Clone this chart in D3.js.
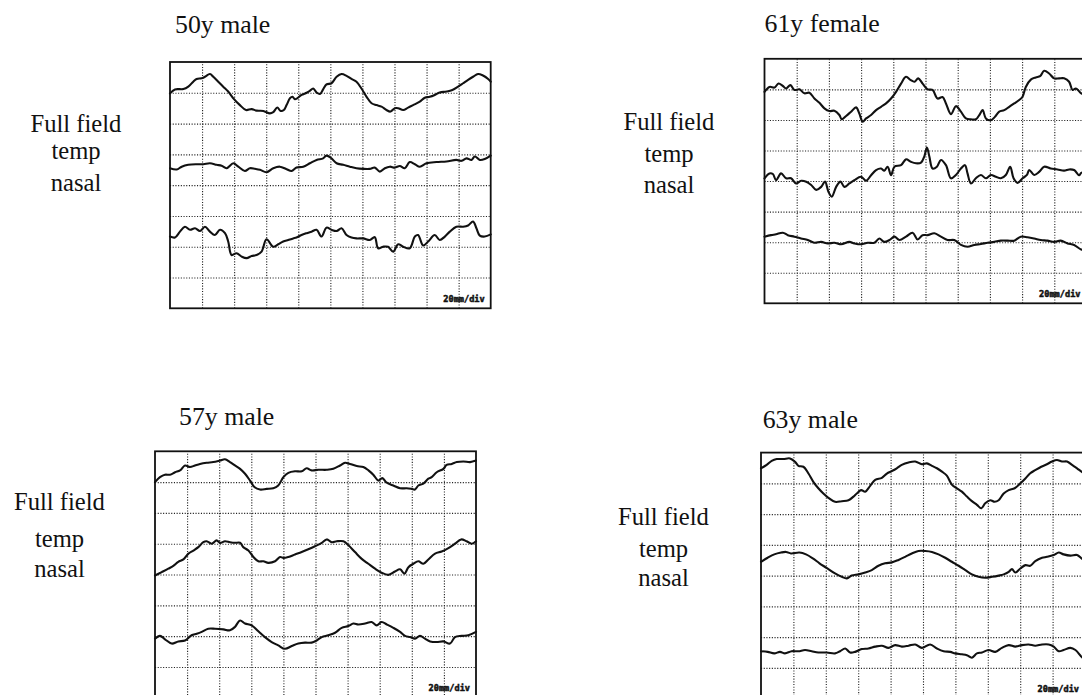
<!DOCTYPE html>
<html><head><meta charset="utf-8">
<script src="https://cdn.jsdelivr.net/npm/d3@7"></script>
<style>html,body{margin:0;padding:0;background:#fff;overflow:hidden}</style>
</head><body>
<svg id="c" width="1082" height="695"></svg>
<script>
// ---------- data (time in ms, 20 ms/div; amplitude in divisions from bottom of grid) ----------
const titles = ["50y male", "61y female", "57y male", "63y male"];
const rowLabels = ["Full field", "temp", "nasal"];
const scaleLabel = "20mm/div";
const xTicks = [20, 40, 60, 80, 100, 120, 140, 160, 180];
const yTicks = [1, 2, 3, 4, 5, 6, 7];

const p1Full = [[0,6.98],[3.1,7.11],[8.3,7.12],[11.4,7.20],[14.5,7.36],[16.6,7.45],[19.7,7.47],[21.8,7.52],[24.9,7.61],[27.0,7.52],[30.1,7.36],[33.2,7.20],[36.3,7.04],[39.5,6.82],[43.6,6.60],[47.4,6.44],[50.9,6.47],[54.0,6.42],[58.2,6.41],[62.3,6.33],[64.4,6.37],[66.9,6.52],[69.0,6.41],[71.0,6.44],[72.7,6.60],[74.8,6.82],[76.4,6.87],[77.9,6.79],[79.3,6.82],[82.0,6.93],[85.2,7.00],[87.2,7.06],[89.3,7.14],[91.4,7.01],[93.5,6.96],[95.5,7.11],[97.6,7.27],[100.7,7.31],[103.9,7.52],[107.0,7.61],[110.1,7.55],[113.2,7.45],[116.3,7.36],[119.4,7.14],[122.6,6.87],[125.7,6.66],[128.8,6.60],[131.9,6.55],[135.0,6.44],[137.5,6.39],[140.2,6.50],[142.3,6.50],[145.4,6.44],[148.5,6.52],[151.6,6.60],[155.8,6.71],[158.9,6.84],[162.0,6.87],[165.1,6.93],[168.2,7.01],[172.4,7.04],[176.1,7.09],[179.7,7.20],[182.8,7.31],[185.9,7.42],[189.0,7.52],[192.1,7.61],[195.2,7.56],[198.4,7.45],[200,7.36]];
const p1Temp = [[0,4.55],[4.2,4.51],[7.3,4.60],[11.4,4.66],[16.6,4.68],[20.8,4.68],[24.9,4.71],[29.1,4.66],[32.2,4.63],[35.3,4.55],[39.5,4.71],[42.6,4.60],[46.7,4.46],[49.8,4.55],[53.0,4.53],[56.1,4.50],[60.2,4.42],[64.4,4.55],[68.5,4.60],[72.7,4.52],[75.8,4.46],[78.9,4.57],[83.1,4.60],[87.2,4.71],[91.4,4.82],[95.5,4.87],[97.6,4.96],[100.7,4.87],[103.9,4.71],[108.0,4.66],[112.2,4.60],[116.3,4.55],[120.5,4.53],[124.6,4.53],[127.7,4.57],[130.9,4.44],[134.0,4.55],[137.1,4.60],[140.2,4.57],[143.3,4.62],[146.4,4.55],[149.5,4.75],[152.7,4.68],[155.8,4.60],[159.9,4.71],[166.2,4.75],[172.4,4.77],[178.6,4.82],[181.8,4.79],[184.9,4.87],[188.0,4.82],[190.1,4.93],[193.2,4.82],[196.3,4.85],[200,4.96]];
const p1Nasal = [[0,2.33],[3.1,2.30],[6.2,2.49],[9.3,2.65],[12.5,2.55],[15.6,2.60],[18.7,2.51],[21.8,2.65],[24.9,2.49],[28.0,2.38],[31.2,2.55],[34.3,2.44],[36.3,2.17],[38.4,1.73],[41.5,1.79],[44.7,1.68],[47.8,1.63],[50.9,1.70],[54.0,1.73],[57.1,1.84],[60.2,2.24],[64.4,2.00],[67.5,2.08],[70.6,2.17],[73.7,2.22],[76.8,2.27],[78.9,2.30],[82.0,2.38],[85.2,2.44],[88.3,2.49],[91.4,2.55],[94.5,2.33],[97.6,2.62],[100.7,2.55],[103.9,2.51],[107.0,2.60],[110.1,2.38],[113.2,2.30],[116.3,2.27],[120.5,2.27],[124.6,2.22],[127.7,2.31],[129.8,1.95],[132.9,2.00],[136.0,2.00],[139.2,1.84],[142.3,2.08],[145.4,2.00],[149.5,1.95],[152.7,2.33],[154.7,2.38],[157.9,2.04],[161.0,2.17],[165.1,2.38],[168.2,2.22],[171.4,2.33],[174.5,2.49],[178.6,2.65],[182.8,2.65],[185.9,2.69],[189.0,2.82],[191.1,2.60],[193.2,2.36],[196.3,2.33],[200,2.40]];

const p2Full = [[0,6.92],[3.1,7.08],[6.2,7.06],[8.7,7.19],[11.4,7.11],[13.4,7.03],[16.1,7.14],[18.6,6.98],[21.7,7.00],[24.8,6.87],[27.9,6.89],[31.0,6.70],[34.1,6.56],[37.2,6.38],[40.3,6.29],[43.4,6.30],[46.5,6.16],[48.0,6.02],[50.7,6.13],[53.8,6.27],[56.9,6.41],[58.9,6.21],[61.0,5.94],[63.1,6.05],[66.2,6.16],[69.3,6.32],[72.4,6.43],[75.5,6.54],[78.6,6.70],[81.7,6.92],[84.8,7.19],[87.9,7.41],[90.9,7.30],[93.1,7.25],[95.5,7.36],[98.2,7.19],[101.3,7.00],[104.4,6.98],[107.5,6.70],[110.6,6.75],[112.7,6.54],[115.8,6.19],[118.9,6.45],[122.0,6.27],[125.1,6.05],[128.2,6.02],[131.3,6.02],[133.4,6.16],[135.5,6.32],[137.5,6.05],[140.6,5.99],[143.1,6.10],[145.8,6.27],[148.9,6.32],[152.0,6.43],[155.1,6.54],[158.2,6.65],[160.3,6.76],[162.3,7.08],[165.4,7.32],[168.5,7.39],[171.2,7.43],[173.7,7.61],[176.8,7.52],[179.9,7.36],[183.0,7.36],[186.1,7.36],[189.2,7.25],[191.3,6.98],[193.4,7.03],[196.7,6.87],[200,6.80]];
const p2Temp = [[0,4.09],[3.1,4.25],[5.2,4.23],[7.2,4.03],[10.3,4.25],[13.4,4.09],[16.5,4.09],[19.6,3.92],[22.8,4.01],[25.9,3.98],[29.0,3.87],[32.1,3.71],[35.2,3.81],[37.6,3.98],[39.7,3.65],[41.8,3.49],[44.5,3.81],[47.2,3.98],[49.6,3.81],[52.7,3.92],[55.8,4.03],[60.0,4.14],[63.1,4.01],[66.2,4.19],[69.3,4.36],[72.4,4.41],[74.4,4.34],[76.5,4.47],[78.6,4.19],[80.7,4.47],[84.8,4.52],[87.9,4.71],[90.9,4.63],[94.1,4.58],[97.2,4.60],[99.3,4.81],[100.9,5.10],[102.4,4.80],[104.4,4.41],[107.1,4.47],[109.6,4.69],[112.7,4.52],[115.8,4.09],[118.9,4.20],[122.0,4.41],[124.5,4.52],[126.1,4.25],[128.2,3.92],[131.3,4.09],[134.4,4.20],[137.5,4.09],[140.6,4.20],[143.7,4.14],[146.8,4.09],[149.9,4.20],[152.6,4.47],[154.7,4.09],[157.2,3.94],[160.3,4.09],[163.0,4.20],[164.4,4.36],[167.5,4.20],[170.6,4.30],[173.7,4.47],[177.8,4.41],[182.0,4.38],[186.1,4.34],[189.2,4.38],[192.3,4.36],[195.4,4.19],[196.7,4.27],[200,4.30]];
const p2Nasal = [[0,2.18],[4.1,2.23],[7.2,2.26],[11.4,2.31],[14.5,2.23],[18.6,2.18],[22.7,2.12],[26.9,2.07],[31.0,1.98],[35.2,2.01],[39.3,1.96],[43.4,1.98],[47.6,1.93],[52.7,2.01],[55.8,1.96],[60.0,1.93],[64.1,1.98],[68.2,1.98],[71.3,2.12],[74.4,2.01],[77.6,2.07],[80.7,2.18],[83.8,2.07],[87.9,2.18],[92.0,2.31],[95.1,2.09],[98.2,2.23],[101.3,2.23],[105.5,2.29],[109.6,2.18],[113.7,2.07],[117.9,2.07],[122.0,1.91],[126.1,1.85],[130.3,1.91],[134.4,1.94],[138.6,1.98],[142.7,2.01],[146.8,2.05],[151.0,2.05],[155.1,2.05],[159.2,2.18],[163.4,2.16],[167.5,2.12],[171.6,2.07],[175.8,2.05],[179.9,2.01],[184.0,2.05],[188.2,1.96],[192.3,1.91],[196.7,1.76],[200,1.74]];

const p3Full = [[0,7.00],[3.1,7.16],[6.2,7.24],[9.3,7.24],[12.5,7.32],[15.6,7.38],[18.7,7.54],[21.8,7.49],[24.9,7.54],[28.0,7.59],[32.2,7.63],[36.3,7.65],[40.5,7.70],[43.6,7.74],[46.7,7.65],[49.8,7.54],[53.0,7.43],[56.1,7.27],[59.2,7.05],[61.9,6.84],[65.4,6.76],[69.6,6.78],[73.7,6.80],[76.8,6.89],[80.0,7.16],[83.1,7.30],[87.2,7.35],[91.4,7.35],[94.5,7.45],[97.6,7.38],[101.8,7.40],[107.0,7.40],[111.1,7.43],[115.3,7.54],[118.4,7.63],[121.5,7.59],[125.7,7.52],[129.8,7.49],[133.0,7.38],[136.0,7.24],[139.2,7.05],[141.6,7.13],[144.4,6.98],[148.5,6.89],[152.7,6.80],[156.8,6.80],[159.9,6.78],[162.0,6.76],[164.1,6.89],[167.2,6.95],[170.3,7.11],[172.4,7.16],[175.5,7.32],[179.7,7.43],[181.7,7.56],[184.9,7.59],[188.0,7.65],[192.1,7.67],[196.3,7.65],[200,7.70]];
const p3Temp = [[0,3.97],[4.2,4.08],[8.3,4.19],[11.4,4.28],[14.5,4.41],[17.7,4.49],[20.8,4.68],[23.9,4.78],[27.0,4.89],[30.1,5.05],[32.2,5.08],[35.3,5.00],[38.4,5.11],[40.5,5.03],[43.6,5.08],[46.7,5.05],[49.8,5.03],[53.0,5.03],[55.0,4.89],[58.2,4.78],[61.3,4.57],[64.4,4.43],[67.5,4.43],[70.6,4.38],[74.8,4.43],[77.9,4.57],[80.0,4.54],[83.1,4.57],[87.2,4.65],[91.4,4.73],[95.5,4.82],[99.7,4.92],[103.9,5.03],[107.0,5.14],[110.1,5.05],[113.2,5.08],[117.4,5.08],[120.5,4.95],[124.6,4.73],[128.8,4.51],[132.9,4.35],[137.1,4.19],[141.2,4.06],[145.4,3.99],[149.5,4.10],[152.7,4.17],[155.4,4.03],[157.9,4.24],[161.0,4.35],[164.1,4.43],[167.2,4.35],[170.3,4.49],[174.5,4.68],[178.6,4.75],[182.8,4.86],[186.9,5.00],[190.7,5.14],[194.2,5.08],[197.3,5.00],[200,5.08]];
const p3Nasal = [[0,1.92],[3.1,2.01],[6.2,1.90],[10.4,1.76],[14.5,1.83],[18.7,1.86],[22.8,2.03],[26.0,2.08],[29.1,2.14],[33.2,2.24],[37.4,2.24],[42.6,2.22],[46.7,2.19],[49.8,2.30],[53.0,2.51],[56.1,2.41],[60.2,2.35],[64.4,2.16],[68.5,1.97],[72.7,1.81],[76.8,1.70],[81.0,1.59],[85.2,1.68],[89.3,1.76],[93.5,1.79],[97.6,1.79],[100.7,1.86],[103.9,1.97],[108.0,2.03],[112.2,2.11],[116.3,2.27],[120.5,2.33],[123.6,2.41],[126.7,2.38],[130.9,2.41],[135.0,2.46],[138.1,2.35],[141.2,2.46],[144.4,2.38],[148.5,2.27],[152.7,2.14],[155.8,2.01],[158.9,1.97],[162.0,1.92],[165.1,2.01],[168.2,1.92],[171.4,1.83],[175.5,1.81],[179.7,1.83],[183.8,1.76],[186.9,1.97],[191.1,2.01],[195.2,2.03],[200,2.14]];

const p4Full = [[0,7.49],[3.5,7.60],[6.6,7.73],[9.7,7.79],[13.8,7.79],[17.9,7.81],[21.0,7.70],[23.1,7.57],[26.2,7.54],[29.3,7.32],[32.3,7.05],[35.4,6.84],[38.5,6.67],[41.6,6.53],[45.7,6.40],[49.9,6.42],[54.0,6.45],[57.1,6.57],[59.1,6.67],[61.8,6.78],[64.3,6.73],[67.4,6.92],[70.5,7.11],[74.6,7.18],[77.7,7.32],[80.8,7.40],[83.8,7.49],[86.9,7.60],[91.1,7.68],[95.2,7.71],[99.3,7.62],[102.4,7.65],[105.5,7.57],[108.6,7.49],[111.7,7.38],[114.7,7.25],[117.8,6.96],[120.9,6.84],[124.0,6.73],[127.1,6.57],[130.2,6.42],[133.3,6.30],[136.0,6.19],[138.4,6.35],[141.5,6.45],[144.2,6.40],[146.7,6.45],[149.8,6.67],[152.9,6.78],[156.6,6.84],[160.1,7.00],[163.2,7.16],[166.2,7.33],[169.3,7.43],[173.0,7.54],[176.5,7.62],[179.6,7.71],[182.7,7.76],[185.8,7.71],[188.9,7.71],[192.0,7.60],[195.1,7.49],[198.4,7.36],[200,7.34]];
const p4Temp = [[0,4.45],[4.1,4.58],[8.2,4.69],[12.4,4.75],[15.5,4.77],[18.5,4.72],[23.7,4.75],[27.8,4.69],[32.0,4.56],[36.1,4.40],[40.2,4.26],[45.7,4.07],[49.9,3.96],[53.0,3.91],[56.0,4.00],[60.2,4.04],[64.3,4.10],[68.4,4.18],[72.5,4.32],[76.6,4.40],[80.8,4.43],[84.9,4.51],[89.0,4.61],[93.1,4.72],[97.2,4.80],[101.4,4.80],[105.5,4.77],[109.6,4.69],[113.7,4.58],[117.8,4.45],[122.0,4.32],[126.1,4.18],[130.2,4.04],[134.3,3.96],[138.4,3.93],[142.6,3.96],[146.7,4.00],[149.8,4.04],[152.9,4.12],[154.9,4.21],[157.0,4.10],[160.1,4.23],[163.2,4.34],[166.2,4.32],[169.3,4.47],[173.5,4.58],[176.5,4.61],[180.7,4.67],[183.8,4.75],[186.8,4.69],[191.0,4.65],[195.1,4.67],[198.4,4.54],[200,4.52]];
const p4Nasal = [[0,1.54],[4.1,1.52],[8.2,1.47],[11.7,1.52],[14.8,1.47],[18.9,1.54],[23.1,1.54],[27.2,1.58],[31.3,1.54],[35.4,1.50],[40.6,1.50],[45.7,1.47],[48.8,1.54],[52.0,1.63],[55.0,1.50],[58.1,1.52],[62.2,1.61],[66.3,1.63],[70.5,1.69],[74.6,1.72],[78.7,1.65],[82.8,1.74],[86.9,1.69],[91.1,1.72],[95.2,1.76],[99.3,1.65],[104.4,1.76],[108.6,1.63],[112.7,1.54],[116.8,1.52],[119.9,1.47],[124.0,1.44],[127.1,1.41],[130.2,1.33],[133.3,1.47],[136.4,1.50],[140.5,1.58],[144.6,1.52],[148.7,1.65],[152.9,1.74],[157.0,1.69],[161.1,1.74],[165.2,1.76],[169.3,1.72],[173.5,1.76],[177.6,1.76],[180.7,1.69],[183.8,1.54],[186.8,1.58],[191.0,1.65],[194.1,1.58],[198.4,1.33],[200,1.30]];

const traces = [[p1Full, p1Temp, p1Nasal], [p2Full, p2Temp, p2Nasal], [p3Full, p3Temp, p3Nasal], [p4Full, p4Temp, p4Nasal]];

// ---------- layout ----------
const layout = [
  {x:170,   y:62,    w:320.7, h:246.3, tx:175,   ty:32.7,  lx:76,    ly:[131.7,159.3,190.5]},
  {x:764.5, y:58.8,  w:322,   h:244.5, tx:764.5, ty:31.7,  lx:669,   ly:[130,162,193]},
  {x:155,   y:451.3, w:321,   h:246.5, tx:179,   ty:425,   lx:59.5,  ly:[510,547,577]},
  {x:761,   y:452.6, w:324,   h:246,   tx:762.7, ty:428.3, lx:663.5, ly:[525,556.7,585.5]}
];

const svg = d3.select("#c");
const serif = "'Liberation Serif','Times New Roman',Times,serif";

layout.forEach((L, i) => {
  const g = svg.append("g").attr("transform", `translate(${L.x},${L.y})`);
  const x = d3.scaleLinear().domain([0, 200]).range([0, L.w]);
  const y = d3.scaleLinear().domain([0, 8]).range([L.h, 0]);

  // dotted grid via axes
  const gx = g.append("g").attr("transform", `translate(0,${L.h})`)
    .call(d3.axisBottom(x).tickValues(xTicks).tickSizeInner(-L.h).tickSizeOuter(0).tickFormat(""));
  const gy = g.append("g")
    .call(d3.axisLeft(y).tickValues(yTicks).tickSizeInner(-L.w).tickSizeOuter(0).tickFormat(""));
  [gx, gy].forEach(a => {
    a.select(".domain").remove();
    a.selectAll(".tick line").attr("stroke", "#222").attr("stroke-width", 1.1).attr("stroke-dasharray", "1.1,1.6");
  });

  // traces
  const line = d3.line().x(d => x(d[0])).y(d => y(d[1])).curve(d3.curveCatmullRom.alpha(0.5));
  g.selectAll("path.trace").data(traces[i]).join("path")
    .attr("class", "trace")
    .attr("d", line)
    .attr("fill", "none").attr("stroke", "#111").attr("stroke-width", 2.1)
    .attr("stroke-linejoin", "round").attr("stroke-linecap", "round");

  // frame
  g.append("rect").attr("x", 0).attr("y", 0).attr("width", L.w).attr("height", L.h)
    .attr("fill", "none").attr("stroke", "#111").attr("stroke-width", 1.8);

  // scale label
  g.append("text").attr("x", L.w - 6).attr("y", L.h - 6.5)
    .attr("text-anchor", "end")
    .attr("font-family", "'DejaVu Sans Mono',monospace").attr("font-weight", "bold")
    .attr("font-size", 8.6).attr("fill", "#111")
    .attr("stroke", "#111").attr("stroke-width", 0.5)
    .text(scaleLabel);

  // title
  svg.append("text").attr("x", L.tx).attr("y", L.ty)
    .attr("font-family", serif).attr("font-size", 25.8).attr("fill", "#111").text(titles[i]);

  // row labels
  rowLabels.forEach((t, k) => {
    svg.append("text").attr("x", L.lx).attr("y", L.ly[k]).attr("text-anchor", "middle")
      .attr("font-family", serif).attr("font-size", 24.6).attr("fill", "#111").text(t);
  });
});
</script>
</body></html>
